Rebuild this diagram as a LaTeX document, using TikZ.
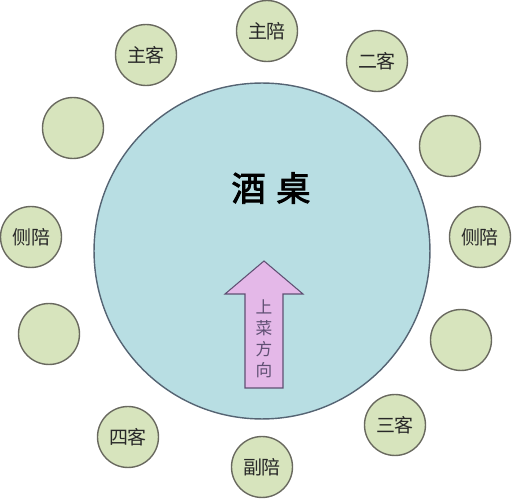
\documentclass[tikz,border=0pt]{standalone}
\usepackage{fontspec}
\newfontfamily\cjk{Noto Sans CJK SC}
\newfontfamily\cjkheavy[FakeBold=2.5]{Noto Sans CJK SC}
\usetikzlibrary{positioning}
\definecolor{tablefill}{RGB}{184,222,227}
\definecolor{tableline}{RGB}{85,100,115}
\definecolor{seatfill}{RGB}{215,228,189}
\definecolor{seatline}{RGB}{105,105,95}
\definecolor{servefill}{RGB}{228,184,232}
\definecolor{serveline}{RGB}{95,80,115}
\definecolor{seattext}{RGB}{40,40,40}

\tikzset{
  table/.style={circle, draw=tableline, fill=tablefill, line width=0.8pt, minimum size=6.72cm, inner sep=0pt},
  seat/.style={circle, draw=seatline, fill=seatfill, line width=0.8pt, minimum size=1.22cm, inner sep=0pt,
    font=\cjk\fontsize{10.8}{12}\selectfont, text=seattext},
  serve/.style={draw=serveline, fill=servefill, line width=0.6pt, line join=miter}
}

\begin{document}
\begin{tikzpicture}[x=0.02cm, y=-0.02cm]
    \useasboundingbox (0,0) rectangle (512,500);

    % Table
    \node[table] (table) at (262,251) {};
    \node[font=\cjkheavy\fontsize{19.5}{20}\selectfont] (title) at (271,188) {酒\hspace{6pt}桌};

    % Seats
    \node[seat] (host) at (267,31) {主陪};
    \node[seat] (guest1) at (146,55) {主客};
    \node[seat] (guest2) at (377,61) {二客};
    \node[seat] (ul) at (73,128) {};
    \node[seat] (ur) at (450,146) {};
    \node[seat] (sideL) at (31,237) {侧陪};
    \node[seat] (sideR) at (480,237) {侧陪};
    \node[seat] (ll) at (49,334) {};
    \node[seat] (lr) at (461,340) {};
    \node[seat] (guest4) at (128,437) {四客};
    \node[seat] (cohost) at (262,467) {副陪};
    \node[seat] (guest3) at (395,425) {三客};

    % Serving direction
    \draw[serve] (264,261) -- (303,294) -- (283,294) -- (283,388)
        -- (245,388) -- (245,294) -- (225,294) -- cycle;
    \node[font=\cjk\fontsize{9.5}{11.9}\selectfont, text=serveline, align=center] (serve) at (264,339)
        {上\\菜\\方\\向};
\end{tikzpicture}
\end{document}
